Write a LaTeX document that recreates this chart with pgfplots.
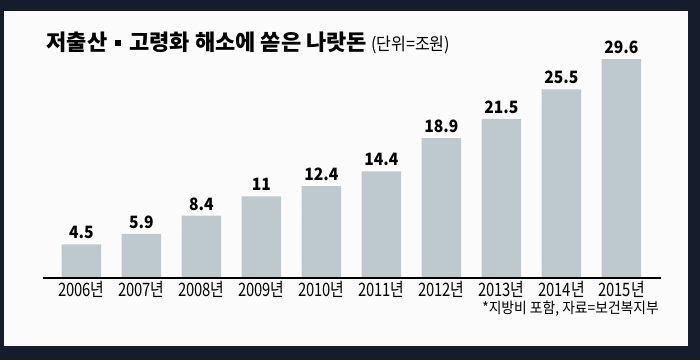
\documentclass[border=0pt]{standalone}
\usepackage{fontspec}
\setmainfont{Noto Sans CJK KR}
\newfontfamily\condf[FakeStretch=0.8]{Noto Sans CJK KR}
\newfontfamily\condn[FakeStretch=0.92]{Noto Sans CJK KR}
\usepackage{pgfplots}
\usepackage{pgfplotstable}
\pgfplotsset{compat=1.18}
\definecolor{navy}{HTML}{151C2B}
\definecolor{panel}{HTML}{FBFBFB}
\definecolor{barc}{HTML}{BEC9CD}
\pgfplotstableread{
x y lab
0 4.5 4.5
1 5.9 5.9
2 8.4 8.4
3 11 11
4 12.4 12.4
5 14.4 14.4
6 18.9 18.9
7 21.5 21.5
8 25.5 25.5
9 29.6 29.6
}\data
\begin{document}
\begin{tikzpicture}[x=1pt,y=1pt]
\fill[navy] (0,0) rectangle (700,360);
\fill[panel] (4,14) rectangle (688,349.3);
\node[anchor=base west,inner sep=0pt] at (46.5,309.5) {\fontsize{22}{24}\selectfont\bfseries 저출산\hspace{8pt}\raisebox{4.5pt}{\rule{6pt}{6pt}}\hspace{8pt}고령화 해소에 쏟은 나랏돈\hspace{4pt}{\mdseries\condn\fontsize{17.5}{18}\selectfont(단위=조원)}};
\node[anchor=east,inner sep=0pt] at (659,51) {\condn\fontsize{15}{16}\selectfont *지방비 포함, 자료=보건복지부};
\begin{axis}[
  at={(42.7pt,82.5pt)}, anchor=south west,
  scale only axis, width=618.3pt, height=236pt,
  xmin=-0.643, xmax=9.66, ymin=0, ymax=32,
  axis lines=none,
  clip=false,
  ybar, bar width=39.5pt,
  xtick=\empty, ytick=\empty,
  nodes near coords,
  point meta=explicit symbolic,
  every node near coord/.append style={font=\condn\fontsize{17}{18}\selectfont\bfseries, text=black, anchor=base, inner sep=0pt, yshift=5.5pt},
]
\addplot[fill=barc, draw=none, bar shift=0pt] table[x=x,y=y,meta=lab]{\data};
\draw[black, line width=2pt] (axis cs:-0.643,0) -- (axis cs:9.66,0);
\pgfplotsinvokeforeach{0,...,9}{
  \node[anchor=base, inner sep=0pt, font=\condf\fontsize{18.5}{19}\selectfont] at (axis cs:#1,0) [yshift=-18.5pt] {\pgfmathtruncatemacro{\yr}{2006+#1}\yr 년};
}
\end{axis}
\end{tikzpicture}
\end{document}
